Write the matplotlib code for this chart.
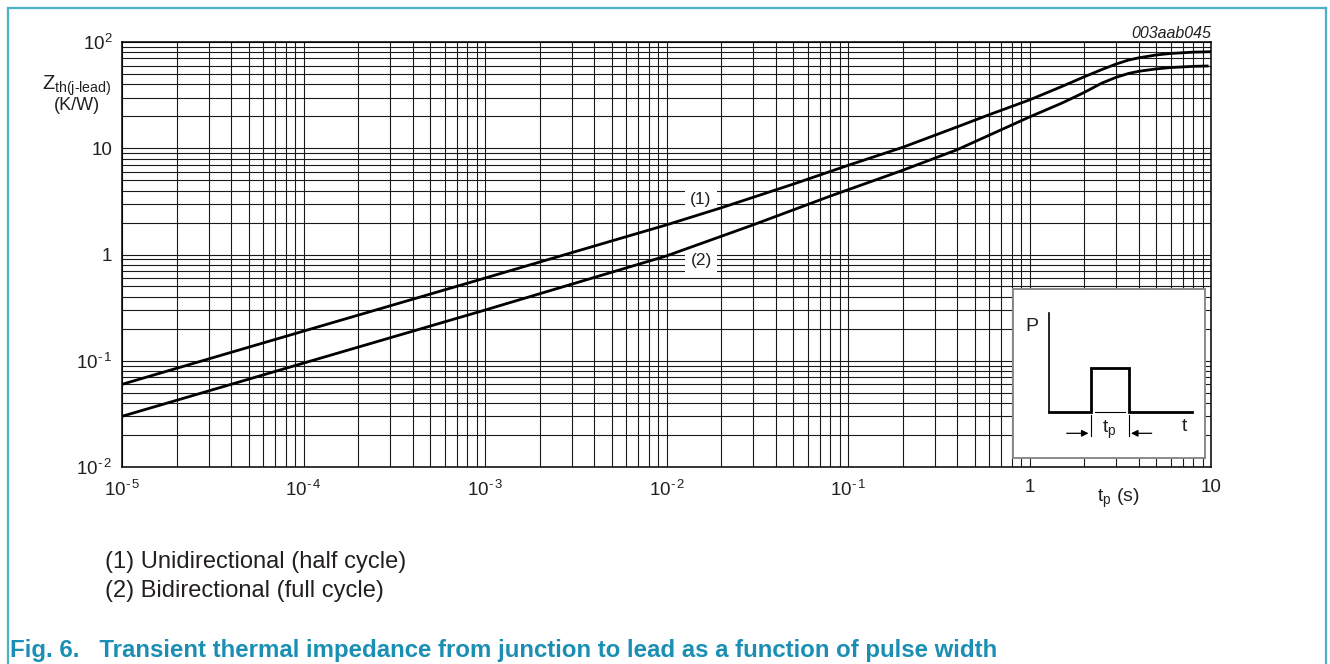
"""
Transient thermal impedance Zth(j-lead) vs pulse width (Fig. 6)
"""

import matplotlib.pyplot as plt
import matplotlib as mpl
from matplotlib.lines import Line2D
from matplotlib.patches import FancyArrowPatch
from matplotlib.ticker import LogLocator, FixedLocator, FixedFormatter, NullFormatter

# fonts
mpl.rcParams['font.family'] = ['Liberation Sans', 'DejaVu Sans']
mpl.rcParams['mathtext.fontset'] = 'custom'
mpl.rcParams['mathtext.rm'] = 'Liberation Sans'
mpl.rcParams['mathtext.it'] = 'Liberation Sans:italic'
mpl.rcParams['mathtext.bf'] = 'Liberation Sans:bold'

# ---- data ----
tp = [1e-5, 1e-4, 1e-3, 1e-2, 0.02, 0.05, 0.1, 0.2, 0.4, 0.6, 1.0, 1.5, 2.0, 2.5, 3.0,
      3.5, 4.0, 5.0, 6.0, 8.0, 10.0]
zth_uni = [0.06, 0.19, 0.60, 1.9, 2.75, 4.6, 6.9, 10.2, 15.9, 20.7, 28.5, 38.0, 47.0, 55.0, 62.0,
           67.5, 71.0, 75.5, 78.0, 80.3, 81.0]

tp2 = [1e-5, 1e-4, 1e-3, 1e-2, 0.03, 0.08, 0.2, 0.4, 1.0, 1.5, 2.0, 2.5, 3.0, 3.5, 4.0,
       5.0, 6.0, 8.0, 9.7]
zth_bi = [0.03, 0.095, 0.30, 0.97, 1.9, 3.55, 6.2, 9.7, 19.7, 26.5, 33.5, 41.0, 46.5, 50.5, 53.0,
          55.8, 57.5, 59.0, 59.5]

x_ticks = [1e-5, 1e-4, 1e-3, 1e-2, 1e-1, 1, 10]
x_ticklabels = [r'$\mathregular{10^{\text{-}\,5}}$', r'$\mathregular{10^{\text{-}\,4}}$',
                r'$\mathregular{10^{\text{-}\,3}}$', r'$\mathregular{10^{\text{-}\,2}}$',
                r'$\mathregular{10^{\text{-}\,1}}$', '1', '10']
y_ticks = [1e-2, 1e-1, 1, 10, 100]
y_ticklabels = [r'$\mathregular{10^{\text{-}\,2}}$', r'$\mathregular{10^{\text{-}\,1}}$', '1', '10',
                r'$\mathregular{10^{2}}$']

notes = ['(1) Unidirectional (half cycle)', '(2) Bidirectional (full cycle)']
caption = 'Fig. 6.   Transient thermal impedance from junction to lead as a function of pulse width'

TEAL = '#4bb1c8'
CAPTION_BLUE = '#1b8fb3'
TEXT_DARK = '#231f20'

fig = plt.figure(figsize=(13.3, 6.64), dpi=100)
ax = fig.add_axes([122 / 1330, 1 - 467 / 664, (1211 - 122) / 1330, (467 - 42) / 664])

ax.plot(tp, zth_uni, color='black', linewidth=2.0, solid_capstyle='butt', zorder=3)
ax.plot(tp2, zth_bi, color='black', linewidth=2.0, solid_capstyle='butt', zorder=3)

ax.set_xscale('log')
ax.set_yscale('log')
ax.set_xlim(1e-5, 10)
ax.set_ylim(1e-2, 100)

ax.xaxis.set_major_locator(FixedLocator(x_ticks))
ax.xaxis.set_major_formatter(FixedFormatter(x_ticklabels))
ax.yaxis.set_major_locator(FixedLocator(y_ticks))
ax.yaxis.set_major_formatter(FixedFormatter(y_ticklabels))
ax.xaxis.set_minor_locator(LogLocator(base=10, subs=range(2, 10), numticks=20))
ax.yaxis.set_minor_locator(LogLocator(base=10, subs=range(2, 10), numticks=20))
ax.xaxis.set_minor_formatter(NullFormatter())
ax.yaxis.set_minor_formatter(NullFormatter())

ax.tick_params(which='both', length=0, labelsize=13.5, colors=TEXT_DARK)
ax.tick_params(axis='y', pad=7)
ax.tick_params(axis='x', pad=9)

ax.grid(True, which='both', color='#1a1a1a', linewidth=0.8)
for sp in ax.spines.values():
    sp.set_linewidth(1.1)

# curve labels with white boxes over the grid (curves stay on top)
for lbl, yv in [('(1)', 3.27), ('(2)', 0.87)]:
    ax.text(0.0155, yv, lbl, fontsize=12.5, ha='center', va='center', color=TEXT_DARK, zorder=2.5,
            bbox=dict(facecolor='white', edgecolor='none', pad=4))

# axis titles
fig.text(77 / 1330, 1 - 86 / 664, r'Z$_{\mathregular{th(j\text{-}lead)}}$', fontsize=14.5,
         ha='center', va='center', color=TEXT_DARK)
fig.text(77 / 1330, 1 - 106 / 664, '(K/W)', fontsize=13, ha='center', va='center', color=TEXT_DARK)
fig.text(1118 / 1330, 1 - 498 / 664, r't$_\mathregular{p}$ (s)', fontsize=14,
         ha='center', va='center', color=TEXT_DARK)
fig.text(1211 / 1330, 1 - 33 / 664, '003aab045', fontsize=11.5, style='italic',
         ha='right', va='center', color=TEXT_DARK)

# inset: pulse sketch
ins = fig.add_axes([1013 / 1330, 1 - 458 / 664, 192 / 1330, 169 / 664])
ins.set_xlim(0, 192)
ins.set_ylim(169, 0)
ins.set_xticks([])
ins.set_yticks([])
ins.set_facecolor('white')
for sp in ins.spines.values():
    sp.set_color('#8a8a8a')
    sp.set_linewidth(1.4)
ins.plot([36.3, 36.3], [23.7, 123.3], color='black', linewidth=1.2)
ins.plot([36.3, 77.7, 77.7, 116, 116, 178.7], [123.3, 123.3, 78.7, 78.7, 123.3, 123.3],
         color='black', linewidth=2.0, solid_joinstyle='miter')
ins.plot([82, 112], [123.3, 123.3], color='black', linewidth=0.8)
ins.plot([77.5, 77.5], [126, 147], color='black', linewidth=0.8)
ins.plot([116, 116], [126, 147], color='black', linewidth=0.8)
ins.add_patch(FancyArrowPatch((53.7, 144.3), (75.5, 144.3), arrowstyle='-|>', mutation_scale=10,
                              color='black', linewidth=0.9, shrinkA=0, shrinkB=0))
ins.add_patch(FancyArrowPatch((138.7, 144.3), (118, 144.3), arrowstyle='-|>', mutation_scale=10,
                              color='black', linewidth=0.9, shrinkA=0, shrinkB=0))
ins.text(19.3, 37.7, 'P', fontsize=14, ha='center', va='center', color=TEXT_DARK)
ins.text(96, 141, r't$_\mathregular{p}$', fontsize=14, ha='center', va='center', color=TEXT_DARK)
ins.text(171.3, 137.7, 't', fontsize=14, ha='center', va='center', color=TEXT_DARK)

# notes below the chart
fig.text(105 / 1330, 1 - 562 / 664, notes[0], fontsize=17, ha='left', va='center', color=TEXT_DARK)
fig.text(105 / 1330, 1 - 591 / 664, notes[1], fontsize=17, ha='left', va='center', color=TEXT_DARK)

# caption
fig.text(10 / 1330, 1 - 650 / 664, caption, fontsize=17.3, fontweight='bold',
         ha='left', va='center', color=CAPTION_BLUE)

# teal frame (open at the bottom)
fig.add_artist(Line2D([8.3 / 1330, 8.3 / 1330], [0, 1 - 8.3 / 664], color=TEAL, linewidth=1.6))
fig.add_artist(Line2D([1326 / 1330, 1326 / 1330], [0, 1 - 8.3 / 664], color=TEAL, linewidth=1.6))
fig.add_artist(Line2D([8.3 / 1330, 1326 / 1330], [1 - 8.3 / 664, 1 - 8.3 / 664], color=TEAL, linewidth=1.6))

fig.savefig('out.png', dpi=100)
